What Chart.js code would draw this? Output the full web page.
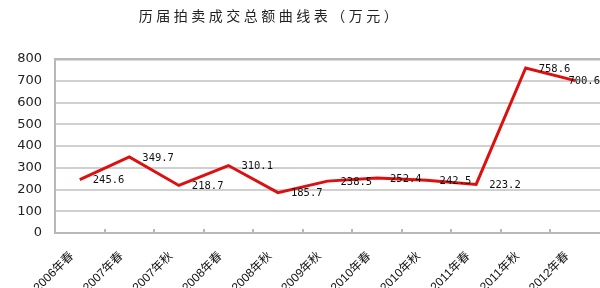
<!DOCTYPE html>
<html>
<head>
<meta charset="utf-8">
<script src="https://cdn.jsdelivr.net/npm/chart.js@4/dist/chart.umd.min.js"></script>
<style>
  html, body { margin: 0; padding: 0; background: #fff; }
</style>
</head>
<body>
<canvas id="chart" width="600" height="288"></canvas>
<script>
const titleText = '历届拍卖成交总额曲线表（万元）';
const seasons = ['2006年春', '2007年春', '2007年秋', '2008年春', '2008年秋', '2009年秋',
                 '2010年春', '2010年秋', '2011年春', '2011年秋', '2012年春'];
const totals = [245.6, 349.7, 218.7, 310.1, 185.7, 238.5, 252.4, 242.5, 223.2, 758.6, 700.6];
const yMin = 0, yMax = 800, yStep = 100;

// title drawn on the canvas
const titlePlugin = {
  id: 'titleText',
  afterDraw(chart) {
    const ctx = chart.ctx;
    ctx.save();
    ctx.font = '14px "Noto Sans CJK SC"';
    ctx.letterSpacing = '3.5px';
    ctx.fillStyle = '#222';
    ctx.textAlign = 'center';
    ctx.textBaseline = 'middle';
    ctx.fillText(titleText, 270, 16);
    ctx.restore();
  }
};

// value labels to the right of every point
const valueLabels = {
  id: 'valueLabels',
  afterDatasetsDraw(chart) {
    const ctx = chart.ctx;
    const meta = chart.getDatasetMeta(0);
    ctx.save();
    ctx.font = '10.5px "DejaVu Sans Mono"';
    ctx.fillStyle = '#111';
    ctx.textAlign = 'left';
    ctx.textBaseline = 'middle';
    meta.data.forEach((pt, i) => {
      const txt = totals[i].toFixed(1);
      const w = ctx.measureText(txt).width;
      const x = Math.min(pt.x + 13, chart.width - w);
      ctx.fillText(txt, x, pt.y + 1);
    });
    ctx.restore();
  }
};

// short tick marks between categories, inside the plot
const innerTicks = {
  id: 'innerTicks',
  afterDraw(chart) {
    const xs = chart.scales.x;
    const ctx = chart.ctx;
    ctx.save();
    ctx.strokeStyle = '#b8b8b8';
    ctx.lineWidth = 2;
    ctx.beginPath();
    for (let i = 0; i < seasons.length - 1; i++) {
      const x = Math.round((xs.getPixelForTick(i) + xs.getPixelForTick(i + 1)) / 2);
      ctx.moveTo(x, xs.top - 4);
      ctx.lineTo(x, xs.top);
    }
    ctx.stroke();
    ctx.restore();
  }
};

new Chart(document.getElementById('chart'), {
  type: 'line',
  data: {
    labels: seasons,
    datasets: [{
      data: totals,
      borderColor: '#dd1010',
      borderWidth: 3,
      pointRadius: 0,
      tension: 0,
      fill: false
    }]
  },
  options: {
    responsive: false,
    animation: false,
    layout: { padding: { top: 59, right: 0, bottom: 0, left: 0 } },
    plugins: { legend: { display: false }, tooltip: { enabled: false } },
    scales: {
      x: {
        offset: true,
        afterFit(s) { s.height = 55; },
        grid: { display: false },
        border: { display: true, color: '#b8b8b8', width: 2 },
        ticks: {
          autoSkip: false,
          minRotation: 45,
          maxRotation: 45,
          padding: 8,
          labelOffset: -8,
          color: '#111',
          font: { family: '"Liberation Sans", "Noto Sans CJK SC"', size: 12 }
        }
      },
      y: {
        min: yMin,
        max: yMax,
        afterFit(s) { s.width = 55; },
        grid: {
          drawTicks: false,
          color: ctx => ctx.tick && ctx.tick.value === yMax ? '#b8b8b8' : '#d0d0d0',
          lineWidth: ctx => ctx.tick && ctx.tick.value === yMax ? 2.5 : 2
        },
        border: { display: true, color: '#b8b8b8', width: 2 },
        ticks: {
          stepSize: yStep,
          padding: 13,
          color: '#222',
          font: { family: '"DejaVu Sans"', size: 13 }
        }
      }
    }
  },
  plugins: [titlePlugin, valueLabels, innerTicks]
});
</script>
</body>
</html>
